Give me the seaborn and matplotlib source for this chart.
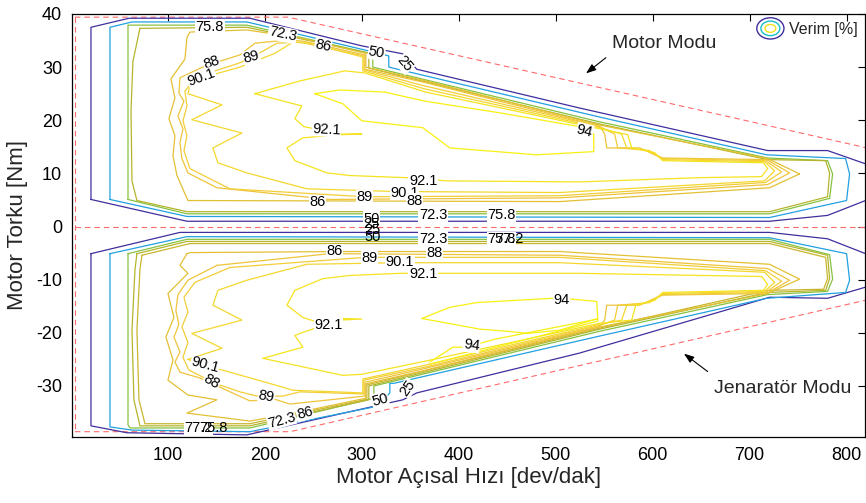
import matplotlib
matplotlib.use("Agg")
import matplotlib.pyplot as plt
import pandas as pd
import seaborn as sns
from matplotlib.legend_handler import HandlerBase
from matplotlib.patches import Ellipse, Patch

# --- verim konturlari (hiz [dev/dak], tork [Nm]) ---
LEVELS = ["25", "50", "72.3", "75.8", "77.2", "86", "88", "89", "90.1", "92.1", "94"]
LEVEL_COLORS = {"25": "#3f2f9e", "50": "#22a0e0", "72.3": "#86c241", "75.8": "#b5b52c",
                "77.2": "#c9b62f", "86": "#e3c033", "88": "#eec43a", "89": "#f2cd38",
                "90.1": "#f4d72e", "92.1": "#f5e31f", "94": "#f8f012"}

# motor modu (ust yari)
U25 = [(20.6, 5.1), (20.6, 37.5), (59.8, 39.2), (184.5, 39.2), (300, 34.0), (342.3, 32.5),
       (356.7, 29.6), (524.7, 22.3), (718.6, 14.3), (780.4, 14.3), (819.6, 11.8), (834, 11.0),
       (834, 5.5), (819.6, 4.9), (780.4, 2.1), (720.6, 1.0), (119.6, 1.0), (20.6, 5.1)]
U50 = [(40.2, 5.1), (40.2, 37.5), (62.9, 38.5), (181.4, 38.5), (308.2, 33.0), (327.8, 32.1),
       (327.8, 30.0), (337.1, 29.6), (545.4, 20.6), (717.5, 13.5), (799, 12.8), (803.1, 9.9),
       (800, 4.9), (720.6, 1.7), (119.6, 1.9), (40.2, 5.1)]
U72 = [(58.8, 5.1), (58.8, 37.9), (181.4, 37.9), (311.3, 32.5), (311.3, 30.0), (545.4, 19.7),
       (718.6, 12.9), (780.4, 12.4), (785.6, 9.9), (782.5, 5.3), (720.6, 2.4), (119.6, 2.4),
       (58.8, 5.1)]
U75 = [(71.1, 37.3), (63.9, 31.1), (61.9, 21.8), (62.9, 8.6), (68.0, 4.9), (119.6, 2.8),
       (720.6, 2.8), (780.4, 5.6), (782.5, 10.1), (778.4, 12.4), (718.6, 12.6), (545.4, 19.3),
       (307.2, 29.8), (307.2, 32.6), (181.4, 37.5), (71.1, 37.3)]
U86 = [(751.5, 9.9), (718.6, 12.8), (545.4, 19.1), (361.9, 27.6), (304.1, 30.0), (304.1, 32.6),
       (236.1, 35.5), (181.4, 37.0), (122.7, 36.6), (119.6, 35.6), (117.5, 31.5), (103.1, 27.8),
       (107.2, 24.2), (101, 20.3), (107.2, 17.1), (105.2, 13.3), (109.3, 9.6), (120.6, 4.9),
       (504.1, 4.7), (720.6, 7.3), (751.5, 9.9)]
U88 = [(138.1, 30.2), (174.2, 32.3), (189.7, 34.5), (222.7, 35.1), (239.2, 34.9), (303.1, 32.3),
       (303.1, 29.6), (362.9, 27.2), (545.4, 18.9), (550.5, 17.4), (552.6, 14.8), (586.6, 14.8),
       (610.3, 12.9), (717.5, 12.6), (741.2, 10.1), (718.6, 7.9), (504.1, 5.4), (267.0, 5.1),
       (150.5, 7.3), (120.6, 10.1), (114.4, 12.8), (112.4, 15.8), (115.5, 18.4), (110.3, 20.8),
       (116.5, 23.6), (111.3, 25.1), (112.4, 28.0), (138.1, 30.2)]
U89 = [(127.8, 27.8), (148.5, 29.3), (174.2, 30.8), (186.6, 31.9), (197.9, 33.0), (212.4, 34.5),
       (236.1, 34.7), (302.1, 32.1), (302.1, 29.5), (363.9, 26.5), (545.4, 18.8), (560.8, 17.4),
       (563.9, 14.8), (591.8, 14.4), (610.3, 12.8), (716.5, 12.4), (733.0, 10.3), (716.5, 8.3),
       (504.1, 5.8), (303.1, 5.6), (163.9, 7.1), (122.7, 10.9), (116.5, 14.3), (119.6, 17.1),
       (115.5, 19.9), (119.6, 22.7), (117.5, 25.5), (127.8, 27.8)]
U90 = [(122.7, 26.5), (135.1, 28.0), (174.2, 30.0), (210.3, 32.6), (228.9, 34.7), (246.4, 34.5),
       (301, 31.9), (301, 29.3), (364.9, 25.9), (545.4, 18.6), (568.0, 17.4), (573.2, 14.8),
       (596.9, 14.3), (610.3, 12.6), (715.5, 12.2), (725.8, 10.5), (715.5, 8.6), (504.1, 6.4),
       (334.0, 6.6), (243.3, 7.1), (181.4, 10.1), (151.5, 12.0), (146.4, 14.8), (176.3, 17.6),
       (124.7, 20.1), (155.7, 22.9), (120.6, 25.0), (122.7, 26.5)]
U92 = [(189.7, 25.0), (236.1, 27.4), (282.5, 29.3), (303.1, 28.9), (366.0, 25.3), (545.4, 18.4),
       (574.2, 17.3), (578.4, 14.8), (602.1, 13.9), (610.3, 12.4), (714.4, 12.0), (718.6, 10.9),
       (712.4, 9.4), (648.5, 9.2), (524.7, 8.4), (387.6, 8.6), (346.4, 9.2), (287.6, 9.6),
       (263.9, 10.1), (230.9, 12.4), (222.7, 14.8), (239.2, 16.7), (279.4, 17.3), (300, 17.4),
       (279.4, 17.4), (240.2, 18.8), (230.9, 20.3), (238.1, 22.7), (189.7, 25.0)]
U94 = [(251.5, 25.0), (277.3, 25.7), (323.7, 25.3), (364.9, 23.6), (442.3, 21.4), (524.7, 18.8),
       (539.2, 17.4), (539.2, 14.1), (480.4, 13.5), (390.7, 14.8), (362.9, 18.6), (300, 19.9),
       (280.4, 23.1), (251.5, 25.0)]

# jenerator modu (alt yari)
L25 = [(20.6, -5.1), (112.4, -1.1), (720.6, -1.1), (780.4, -2.3), (819.6, -5.1), (834, -6.4),
       (834, -10.5), (819.6, -11.4), (780.4, -13.5), (720.6, -13.3), (524.7, -23.8),
       (356.7, -31.3), (342.3, -32.6), (181.4, -39.2), (57.7, -38.8), (20.6, -37.5), (20.6, -5.1)]
L50 = [(40.2, -5.1), (119.6, -1.9), (720.6, -2.1), (800, -5.1), (803.1, -10.1), (799, -12.4),
       (717.5, -13.5), (545.4, -20.6), (333, -29.5), (328.9, -29.5), (328.9, -31.3),
       (316.5, -33.8), (184.5, -38.6), (62.9, -38.3), (40.2, -37.7), (40.2, -5.1)]
L72 = [(58.8, -5.1), (119.6, -2.4), (720.6, -2.4), (782.5, -5.3), (785.6, -9.9), (780.4, -12.2),
       (718.6, -12.8), (545.4, -19.7), (312.4, -30.0), (312.4, -32.3), (184.5, -37.9),
       (60.8, -37.9), (58.8, -37.3), (58.8, -5.1)]
L75 = [(68.0, -5.1), (119.6, -2.8), (720.6, -2.8), (780.4, -5.4), (782.5, -9.8), (778.4, -12.0),
       (718.6, -12.4), (545.4, -19.3), (307.2, -30.0), (307.2, -32.6), (184.5, -37.5),
       (71.1, -37.5), (64.9, -32.6), (62.9, -19.5), (66.0, -8.1), (68.0, -5.1)]
L77 = [(73.2, -5.4), (122.7, -3.2), (720.6, -3.2), (778.4, -5.8), (780.4, -9.8), (776.3, -11.8),
       (718.6, -12.0), (545.4, -19.1), (305.2, -29.8), (305.2, -32.5), (184.5, -37.1),
       (76.3, -37.1), (70.1, -32.6), (68.0, -19.5), (71.1, -8.1), (73.2, -5.4)]
L86 = [(119.6, -5.1), (112.4, -7.3), (120.6, -8.8), (100.0, -12.6), (106.2, -17.1), (97.9, -20.8),
       (105.2, -25.1), (100.0, -28.9), (120.6, -31.7), (150.5, -32.6), (119.6, -35.1),
       (184.5, -36.6), (236.1, -34.9), (304.1, -32.3), (304.1, -29.6), (361.9, -27.2),
       (545.4, -18.9), (718.6, -12.6), (751.5, -9.9), (720.6, -7.1), (504.1, -4.7),
       (282.5, -4.7), (122.7, -4.9), (119.6, -5.1)]
L88 = [(150.5, -7.3), (120.6, -10.1), (110.3, -12.8), (108.2, -15.8), (111.3, -18.4),
       (106.2, -20.8), (112.4, -23.6), (107.2, -25.5), (112.4, -27.4), (133.0, -28.5),
       (155.7, -30.4), (184.5, -32.8), (210.3, -32.5), (225.8, -33.4), (303.1, -31.9),
       (303.1, -29.3), (362.9, -26.8), (545.4, -18.8), (550.5, -17.6), (552.6, -14.8),
       (586.6, -14.8), (610.3, -12.9), (717.5, -12.6), (741.2, -10.1), (718.6, -7.9),
       (504.1, -5.4), (267.0, -5.1), (150.5, -7.3)]
L89 = [(163.9, -7.7), (127.8, -10.5), (116.5, -13.3), (120.6, -16.1), (114.4, -18.9),
       (120.6, -21.8), (115.5, -24.6), (121.6, -27.0), (148.5, -29.5), (174.2, -31.1),
       (191.8, -31.9), (218.6, -31.9), (236.1, -31.1), (302.1, -31.5), (302.1, -28.9),
       (363.9, -26.5), (545.4, -18.6), (560.8, -17.6), (563.9, -14.8), (591.8, -14.4),
       (610.3, -12.8), (716.5, -12.4), (733.0, -10.3), (716.5, -8.3), (504.1, -5.8),
       (303.1, -5.8), (163.9, -7.7)]
L90 = [(120.6, -25.0), (138.1, -26.1), (163.9, -27.4), (210.3, -29.8), (228.9, -30.8),
       (301, -31.3), (301, -28.7), (364.9, -26.1), (545.4, -18.4), (568.0, -17.6),
       (573.2, -14.8), (596.9, -14.3), (610.3, -12.6), (715.5, -12.2), (725.8, -10.5),
       (715.5, -8.6), (504.1, -6.8), (339.2, -6.8), (243.3, -7.1), (181.4, -10.1),
       (151.5, -12.0), (146.4, -14.8), (176.3, -17.6), (124.7, -20.1), (155.7, -22.9),
       (120.6, -25.0)]
L92 = [(287.6, -9.2), (259.8, -9.8), (230.9, -12.0), (222.7, -14.8), (239.2, -17.1),
       (254.6, -18.0), (277.3, -17.3), (300, -17.4), (277.3, -17.6), (239.2, -19.9),
       (230.9, -20.5), (239.2, -22.7), (197.9, -24.8), (280.4, -28.0), (300, -27.8),
       (366.0, -25.3), (545.4, -18.2), (578.4, -17.6), (582.5, -14.8), (602.1, -13.9),
       (610.3, -12.4), (714.4, -12.0), (718.6, -10.9), (712.4, -9.4), (524.7, -8.8),
       (387.6, -8.8), (339.2, -8.8), (287.6, -9.2)]
L94 = [(361.9, -17.3), (390.7, -15.2), (418.6, -14.3), (496.9, -13.5), (519.6, -13.7),
       (542.3, -14.1), (543.3, -17.3), (504.1, -19.5), (471.1, -20.1), (449.5, -19.7),
       (421.6, -19.3), (361.9, -17.3)]
L94B = [(370.1, -25.5), (393.8, -22.7), (408.2, -22.7), (437.1, -21.2), (543.3, -17.4),
        (543.3, -17.8), (370.1, -25.9)]

PATHS = [("25", U25), ("50", U50), ("72.3", U72), ("75.8", U75), ("86", U86), ("88", U88),
         ("89", U89), ("90.1", U90), ("92.1", U92), ("94", U94),
         ("25", L25), ("50", L50), ("72.3", L72), ("75.8", L75), ("77.2", L77), ("86", L86),
         ("88", L88), ("89", L89), ("90.1", L90), ("92.1", L92), ("94", L94), ("94", L94B)]

# kontur etiketleri: (metin, hiz, tork, aci)
LABELS = [("75.8", 143.3, 37.5, 0), ("72.3", 218.2, 36.2, -12), ("86", 259.8, 34.0, -12),
          ("50", 315.2, 32.7, -10), ("25", 344.3, 30.6, -50), ("88", 145.0, 30.8, 20),
          ("89", 186.3, 31.9, 15), ("90.1", 134.7, 28.0, 20), ("92.1", 263.5, 18.3, -3),
          ("94", 529.9, 18.0, -14), ("92.1", 363.2, 8.6, 0), ("89", 303.1, 5.5, 0),
          ("90.1", 344.3, 6.4, 0), ("88", 354.6, 4.9, 0), ("86", 254.6, 4.6, 0),
          ("72.3", 373.5, 2.1, 0), ("75.8", 444.0, 2.1, 0),
          ("50", 310.3, 1.5, 0), ("25", 310.3, 0.4, 0), ("25", 311.3, -0.6, 0), ("50", 311.3, -1.9, 0),
          ("72.3", 373.5, -2.3, 0), ("75.8", 444.3, -2.4, 0), ("77.2", 452.6, -2.4, 0),
          ("86", 272.2, -4.6, 0), ("88", 374.5, -5.0, 0), ("89", 307.5, -5.9, 0),
          ("90.1", 339.2, -6.7, 0), ("92.1", 363.2, -8.9, 0), ("94", 505.9, -13.9, 0),
          ("92.1", 265.3, -18.6, 0), ("94", 413.1, -22.3, -8), ("90.1", 138.1, -26.1, -15),
          ("88", 145.0, -29.2, -30), ("89", 201.7, -32.0, -10), ("72.3", 217.2, -36.4, 15),
          ("86", 241.2, -35.1, 15), ("77.2", 131.4, -37.9, 0), ("75.8", 146.9, -37.9, 0),
          ("50", 318.6, -32.6, 15), ("25", 347.4, -30.4, 55)]
# ust uste binen etiketlerde arka plan yok (orijinaldeki gibi ikisi de gorunsun)
NO_BOX = {18, 19, 20, 23, 38}

# calisma bolgesi sinirlari (kirmizi kesikli)
RED_TOP_SPEED = [4, 224, 850]
RED_TOP_TORQUE = [39.4, 39.4, 13.6]
RED_BOT_SPEED = [4, 226, 850]
RED_BOT_TORQUE = [-38.6, -38.6, -12.6]
RED_LEFT_SPEED = [4, 4]
RED_LEFT_TORQUE = [39.4, -38.6]
RED_MID_SPEED = [4, 850]
RED_MID_TORQUE = [0, 0]

RING_COLORS = ["#3f2f9e", "#19bfc9", "#f2e11c"]


class RingHandler(HandlerBase):
    def create_artists(self, legend, orig_handle, xdescent, ydescent, width, height,
                       fontsize, trans):
        cx = width / 2 - xdescent
        cy = height / 2 - ydescent
        arts = []
        for k, c in enumerate(RING_COLORS):
            e = Ellipse((cx, cy), width * (1 - 0.3 * k), height * (1.9 - 0.6 * k),
                        fill=False, edgecolor=c, lw=1.0, transform=trans)
            arts.append(e)
        return arts


def main():
    sns.set_style("white")
    plt.rcParams["font.family"] = ["Liberation Sans", "DejaVu Sans"]
    plt.rcParams["axes.unicode_minus"] = False

    rows = []
    for pid, (lvl, pts) in enumerate(PATHS):
        for s, t in pts:
            rows.append((pid, lvl, s, t))
    df = pd.DataFrame(rows, columns=["path", "level", "speed", "torque"])

    fig = plt.figure(figsize=(8.66, 5.03), dpi=100)
    ax = fig.add_axes([0.0831, 0.1312, 0.9163, 0.841])

    red = dict(color="#ff6a6a", lw=0.8, ls=(0, (5, 3.5)), zorder=1)
    ax.plot(RED_TOP_SPEED, RED_TOP_TORQUE, **red)
    ax.plot(RED_BOT_SPEED, RED_BOT_TORQUE, **red)
    ax.plot(RED_LEFT_SPEED, RED_LEFT_TORQUE, **red)
    ax.plot(RED_MID_SPEED, RED_MID_TORQUE, **red)

    sns.lineplot(data=df, x="speed", y="torque", hue="level", units="path",
                 estimator=None, sort=False, hue_order=LEVELS, palette=LEVEL_COLORS,
                 legend=False, linewidth=0.9, ax=ax, zorder=2)

    for i, (txt, s, t, rot) in enumerate(LABELS):
        box = None if i in NO_BOX else dict(fc="white", ec="none", pad=0.3)
        ax.text(s, t, txt, rotation=rot, ha="center", va="center", fontsize=10.5,
                color="black", zorder=4, rotation_mode="anchor", bbox=box)

    arrow = dict(arrowstyle="-|>,head_length=0.6,head_width=0.22", color="black", lw=0.8)
    ax.annotate("", xy=(529, 28.5), xytext=(554, 32.1), arrowprops=arrow, zorder=5)
    ax.text(612, 34.5, "Motor Modu", ha="center", va="center", fontsize=14)
    ax.annotate("", xy=(630, -23.6), xytext=(659, -27.6), arrowprops=arrow, zorder=5)
    ax.text(734, -30.4, "Jenaratör Modu", ha="center", va="center", fontsize=14)

    proxy = Patch()
    ax.legend([proxy], ["Verim [%]"], handler_map={proxy: RingHandler()},
              loc="upper right", bbox_to_anchor=(1.0, 1.0), frameon=False, fontsize=11.5,
              handlelength=1.7, handletextpad=0.3, borderaxespad=0.1)

    ax.set_xlim(1, 819.5)
    ax.set_ylim(-39.6, 39.8)
    ax.set_xticks(range(100, 801, 100))
    ax.set_yticks(range(-30, 41, 10))
    ax.tick_params(direction="in", length=5, width=0.8, top=True, right=True,
                   labelsize=13, colors="black")
    ax.tick_params(axis="x", pad=7.5)
    ax.tick_params(axis="y", pad=7)
    for sp in ax.spines.values():
        sp.set_color("black")
        sp.set_linewidth(0.9)
    ax.set_xlabel("Motor Açısal Hızı [dev/dak]", fontsize=16, labelpad=2)
    ax.set_ylabel("Motor Torku [Nm]", fontsize=16, labelpad=6)

    fig.savefig("out.png", dpi=100)


if __name__ == "__main__":
    main()
